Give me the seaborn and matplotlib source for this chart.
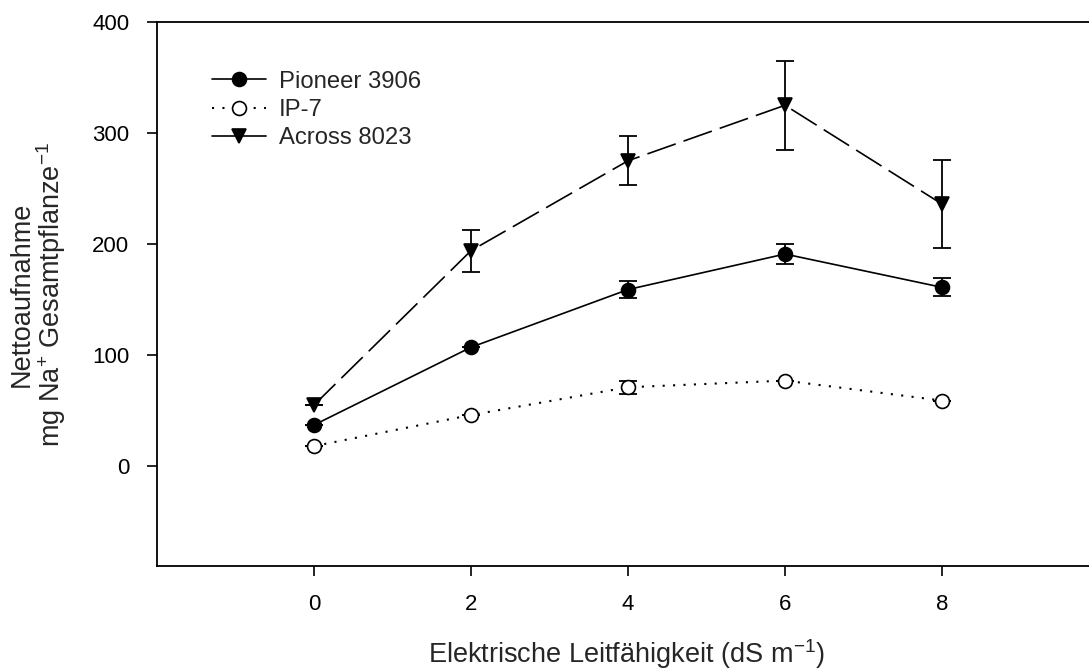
import matplotlib
matplotlib.use("Agg")
import matplotlib.pyplot as plt
import seaborn as sns
import pandas as pd
from matplotlib.lines import Line2D

ec = [0, 2, 4, 6, 8]
pioneer = [37, 107, 159, 191, 161]
pioneer_err = [0, 0, 8, 9, 8]
ip7 = [18, 46, 71, 77, 59]
ip7_err = [0, 0, 6, 0, 0]
across = [55, 194, 275, 325, 236]
across_err = [0, 19, 22, 40, 40]
series_names = ["Pioneer 3906", "IP-7", "Across 8023"]

sns.set_theme(style="ticks")
plt.rcParams['font.family'] = ['Liberation Sans', 'DejaVu Sans']
plt.rcParams['mathtext.fontset'] = 'custom'
plt.rcParams['mathtext.rm'] = 'Liberation Sans'
plt.rcParams['mathtext.it'] = 'Liberation Sans'

fig = plt.figure(figsize=(10.89, 6.72), dpi=100)
ax = fig.add_axes([157/1089, 1-566/672, (1099-157)/1089, (566-22)/672])

styles = [
    dict(values=pioneer, err=pioneer_err, ls='-', marker='o', mfc='black', dashes=None),
    dict(values=ip7, err=ip7_err, ls=':', marker='o', mfc='white', dashes=(1, 4)),
    dict(values=across, err=across_err, ls='--', marker='v', mfc='black', dashes=(18, 5)),
]

handles = []
for name, st in zip(series_names, styles):
    df = pd.DataFrame({"x": ec, "y": st["values"]})
    ax.errorbar(ec, st["values"], yerr=st["err"], fmt='none', ecolor='black',
                elinewidth=1.3, capsize=6.5, capthick=1.3, zorder=2)
    lw = 1.5 if st["ls"] == ':' else 1.2
    kw = dict(color='black', lw=lw, marker=st["marker"],
              markersize=10 if st["marker"] == 'o' else 10.5,
              markerfacecolor=st["mfc"], markeredgecolor='black', markeredgewidth=1.2)
    sns.lineplot(data=df, x="x", y="y", ax=ax, linestyle=st["ls"], zorder=3, **kw)
    line = ax.lines[-1]
    if st["dashes"] is not None:
        line.set_dashes(st["dashes"])
    h = Line2D([0], [0], linestyle=st["ls"], **kw)
    if st["ls"] == ':':
        h.set_dashes(st["dashes"])
    elif st["ls"] == '--':
        h.set_linestyle('-')
    handles.append(h)

ax.set_xlim(-2, 10)
ax.set_ylim(-90, 400)
ax.set_xticks(ec)
ax.set_yticks([0, 100, 200, 300, 400])
ax.tick_params(direction='out', length=7, width=1.2, labelsize=16, colors='black', pad=13)
ax.tick_params(axis='y', pad=13)
for s in ['left', 'bottom', 'top']:
    ax.spines[s].set_linewidth(1.3)
    ax.spines[s].set_color('black')
ax.spines['right'].set_visible(False)
ax.spines['top'].set_visible(True)

ax.set_xlabel("Elektrische Leitfähigkeit (dS m$^{-1}$)", fontsize=19.5)
ax.xaxis.set_label_coords(0.498, -0.130)
ax.set_ylabel("Nettoaufnahme\nmg Na$^{+}$ Gesamtpflanze$^{-1}$", fontsize=19.5, linespacing=1.0)
ax.yaxis.set_label_coords(-0.094, 0.5)

ax.legend(handles, series_names, loc='upper left', bbox_to_anchor=(0.048, 0.928),
          frameon=False, fontsize=17.2, handlelength=2.25, handletextpad=0.55,
          labelspacing=0.26, borderaxespad=0)

fig.savefig("out.png", dpi=100)
